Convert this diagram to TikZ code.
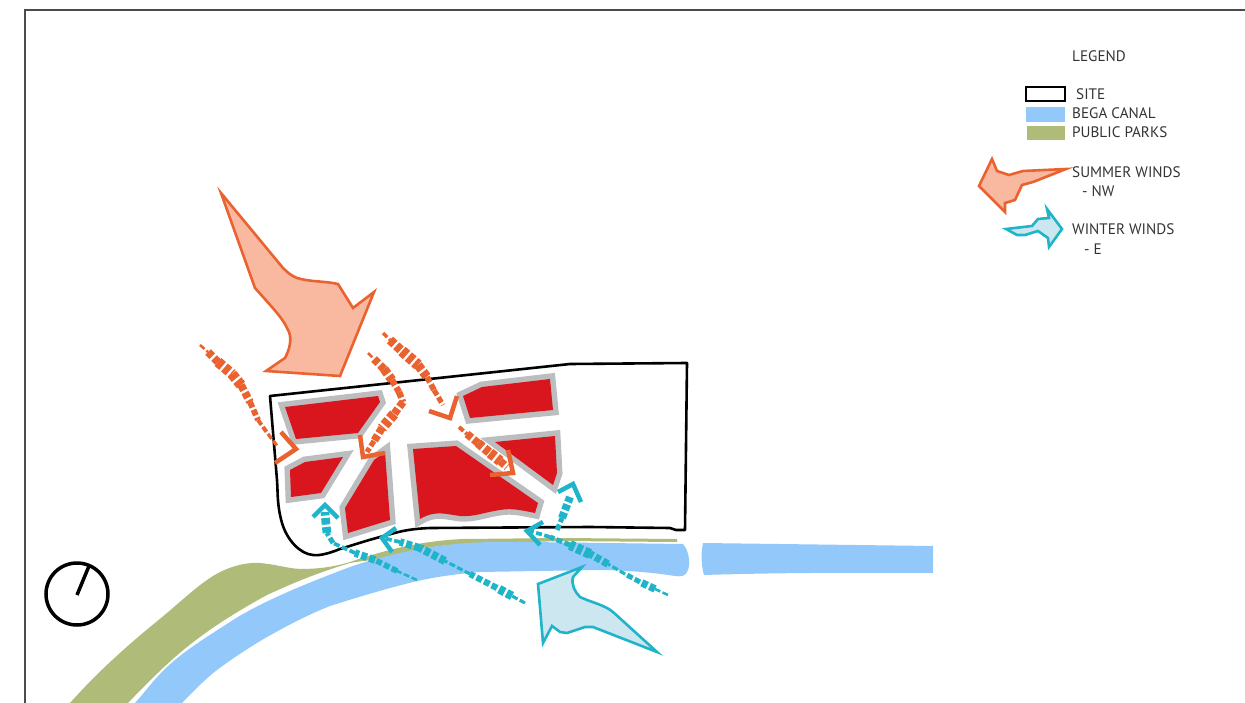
\documentclass[tikz,border=0pt]{standalone}
\usepackage{fontspec}
\setmainfont{PT Sans}
\definecolor{canalblue}{HTML}{93C8FA}
\definecolor{parkgreen}{HTML}{AFBB78}
\definecolor{blockred}{HTML}{D9161D}
\definecolor{blockgray}{HTML}{BBBDBF}
\definecolor{summerline}{HTML}{E9622F}
\definecolor{summerfill}{HTML}{F9B9A1}
\definecolor{winterline}{HTML}{1FB4C9}
\definecolor{winterfill}{HTML}{CDE7F1}
\definecolor{legendtext}{HTML}{333333}
\tikzset{
  block/.style={preaction={draw=blockgray,line width=11pt,line join=miter},fill=blockred},
  bigwind/.style={draw=#1line,fill=#1fill,line width=2.6pt,line join=miter},
  chevron/.style={draw=#1line,line width=4.5pt,line join=miter},
  windbit/.style={draw=#1line,dash pattern=on 6pt off 2.5pt},
  legendlabel/.style={anchor=west,inner sep=0pt,text=legendtext,font=\fontsize{15.2}{18}\selectfont}
}
\begin{document}
\begin{tikzpicture}[x=1pt,y=-1pt]
\useasboundingbox (0,0) rectangle (1245,703);
% frame
\draw [line width=1.2pt,color=black!70] (25,703) -- (25,10) -- (1245,10);
% park and canal
\fill [parkgreen] (70,703) .. controls (95,675) and (120,652) .. (150,627) .. controls (175,607) and (190,592) .. (207,580) .. controls (225,567) and (245,562) .. (260,563) .. controls (280,565) and (285,568) .. (300,569) .. controls (325,569) and (340,565) .. (350,562) .. controls (385,550) and (420,541) .. (463,539) -- (563,538) -- (677,539) -- (677,542) -- (563,541) -- (463,544) .. controls (430,546) and (415,550) .. (397,555) .. controls (375,561) and (365,560) .. (350,563) .. controls (320,572) and (295,582) .. (267,595) .. controls (245,607) and (220,622) .. (200,637) .. controls (175,655) and (150,680) .. (128,703) -- cycle;
\fill [canalblue] (135,703) .. controls (145,692) and (155,678) .. (167,667) .. controls (185,650) and (210,635) .. (233,620) .. controls (265,600) and (310,582) .. (350,567) .. controls (385,555) and (420,548) .. (447,545) .. controls (480,541) and (510,542) .. (530,542) -- (683,544) .. controls (690,552) and (690,565) .. (688,570) .. controls (686,576) and (682,577) .. (675,576) .. controls (650,572) and (620,570) .. (597,570) -- (480,572) .. controls (455,574) and (435,577) .. (413,582) .. controls (385,589) and (355,598) .. (330,606) .. controls (305,616) and (285,627) .. (267,637) .. controls (250,647) and (233,658) .. (217,670) .. controls (204,680) and (194,691) .. (182,703) -- cycle;
\fill [canalblue] (703,543) -- (933,546) -- (933,573) .. controls (880,573) and (800,572) .. (704,575) .. controls (701,565) and (701,552) .. (703,543) -- cycle;
% site
\draw [line width=2.6pt,line join=round] (270,396) -- (570,364) -- (687,363) -- (685,530) -- (676,530) -- (670,528) -- (590,527) -- (430,528) .. controls (405,529) and (395,533) .. (380,537) .. controls (365,541) and (350,546) .. (340,549) .. controls (330,553) and (320,556) .. (313,555) .. controls (300,554) and (287,540) .. (282,523) .. controls (277,505) and (278,495) .. (277,480) -- cycle;
% blocks
\path [block] (285,407) -- (378,396) -- (380,402) -- (358,433) -- (296,439) -- cycle;
\path [block] (290,470) -- (305,462) -- (343,457) -- (321,493) -- (291,497) -- cycle;
\path [block] (385,452) -- (390,520) -- (348,533) -- (345,508) -- (374,460) -- cycle;
\path [block] (413,449) -- (456,446) -- (538,503) -- (535,513) .. controls (520,510) and (512,508) .. (500,510) .. controls (485,512) and (475,517) .. (460,516) .. controls (445,514) and (435,510) .. (420,519) -- cycle;
\path [block] (495,442) -- (555,436) -- (557,473) -- (553,485) -- cycle;
\path [block] (463,396) -- (482,387) -- (550,379) -- (553,410) -- (470,418) -- cycle;
% big winds
\draw [bigwind=summer] (221,193) -- (283,268) .. controls (288,273) and (292,276) .. (297,278) .. controls (310,282) and (325,281) .. (338,284) -- (353,308) -- (374,292) -- (340,376) -- (266,371) -- (285,358) .. controls (292,345) and (291,335) .. (288,330) .. controls (283,318) and (270,305) .. (255,288) -- cycle;
\draw [bigwind=winter] (582,567) -- (538,584) -- (543,643) -- (552,626) -- (560,632) -- (567,633) -- (585,627) -- (593,627) -- (657,652) -- (613,612) .. controls (605,605) and (590,602) .. (580,597) .. controls (575,592) and (571,585) .. (573,577) -- cycle;
% small winds, summer
\foreach \ax/\ay/\bx/\by/\w in {200/345/208/352/2,208/352/218/362/6,218/362/232/374/8,232/374/241/385/8,241/385/250/402/6,250/402/258/420/4.5,258/420/268/434/3,268/434/278/447/2.5}
  \draw [windbit=summer,line width=1.3*\w pt] (\ax,\ay) -- (\bx,\by);
\draw [chevron=summer] (281,432) -- (296,449) -- (275,463);
\foreach \ax/\ay/\bx/\by/\w in {368/353/374/359/2,374/359/384/369/6,384/369/392/380/7,392/380/399/392/5,399/392/403/402/5,403/402/394/414/6,394/414/382/428/8,382/428/374/441/6,374/441/367/452/4}
  \draw [windbit=summer,line width=1.3*\w pt] (\ax,\ay) -- (\bx,\by);
\draw [chevron=summer] (360,435) -- (363,457) -- (385,453);
\foreach \ax/\ay/\bx/\by/\w in {383/333/390/340/2.5,390/340/402/351/7,402/351/418/365/8.5,418/365/427/377/7,427/377/434/390/4.5,434/390/443/405/4}
  \draw [windbit=summer,line width=1.3*\w pt] (\ax,\ay) -- (\bx,\by);
\draw [chevron=summer] (457,396) -- (450,418) -- (429,411);
\foreach \ax/\ay/\bx/\by/\w in {459/427/467/434/3,467/434/478/443/6,478/443/490/453/7,490/453/500/461/8,500/461/507/467/6}
  \draw [windbit=summer,line width=1.3*\w pt] (\ax,\ay) -- (\bx,\by);
\draw [chevron=summer] (508,450) -- (513,473) -- (490,475);
% small winds, winter
\foreach \ax/\ay/\bx/\by/\w in {417/580/397/571/2,397/571/375/560/4.5,375/560/355/553/6,355/553/333/543/3,333/543/327/533/4,327/533/326/524/7,326/524/325/512/7}
  \draw [windbit=winter,line width=1.25*\w pt] (\ax,\ay) -- (\bx,\by);
\draw [chevron=winter] (313,517) -- (325,505) -- (338,518);
\foreach \ax/\ay/\bx/\by/\w in {525/603/512/596/2.5,512/596/497/588/7,497/588/470/574/5,470/574/445/561/2.5,445/561/420/548/6.5,420/548/400/542/6,400/542/383/538/3}
  \draw [windbit=winter,line width=1.25*\w pt] (\ax,\ay) -- (\bx,\by);
\draw [chevron=winter] (396,528) -- (382,538) -- (392,552);
\foreach \ax/\ay/\bx/\by/\w in {668/595/655/589/2,655/589/640/582/6,640/582/625/574/4,625/574/608/564/2.5,608/564/590/554/6,590/554/570/545/8,570/545/550/537/4,550/537/530/531/3}
  \draw [windbit=winter,line width=1.25*\w pt] (\ax,\ay) -- (\bx,\by);
\draw [chevron=winter] (543,522) -- (527,531) -- (540,545);
\foreach \ax/\ay/\bx/\by/\w in {557/530/562/518/5,562/518/570/497/8}
  \draw [windbit=winter,line width=\w pt] (\ax,\ay) -- (\bx,\by);
\draw [chevron=winter] (558,492) -- (573,484) -- (581,502);
% compass
\draw [line width=3.5pt] (77,594) circle [radius=31];
\draw [line width=3.5pt] (77,595) -- (89,566);
% legend
\node [legendlabel] (legendtitle) at (1072,56) {LEGEND};
\draw [line width=2.8pt] (1026,87) rectangle (1065,101);
\fill [canalblue] (1026,107) rectangle (1065,122);
\fill [parkgreen] (1027,126) rectangle (1065,140);
\node [legendlabel] (legendsite) at (1076,94) {SITE};
\node [legendlabel] (legendcanal) at (1072,113) {BEGA CANAL};
\node [legendlabel] (legendparks) at (1072,132) {PUBLIC PARKS};
\draw [bigwind=summer] (1066,169) -- (1023,171) -- (1009,175) -- (997,171) -- (992,159) -- (979,186) -- (1005,212) -- (1005,203) -- (1015,200) -- (1022,185) -- (1033,182) -- cycle;
\draw [bigwind=winter] (1006,229) -- (1032,226) -- (1038,219) -- (1049,218) -- (1047,209) -- (1062,229) -- (1049,247) -- (1048,238) -- (1038,231) -- (1025,235) -- (1017,235) -- cycle;
\node [legendlabel] (legendsummer) at (1072,172) {SUMMER WINDS};
\node [legendlabel] (legendnw) at (1082,191) {- NW};
\node [legendlabel] (legendwinter) at (1072,229) {WINTER WINDS};
\node [legendlabel] (legende) at (1084,249) {- E};
\end{tikzpicture}
\end{document}
